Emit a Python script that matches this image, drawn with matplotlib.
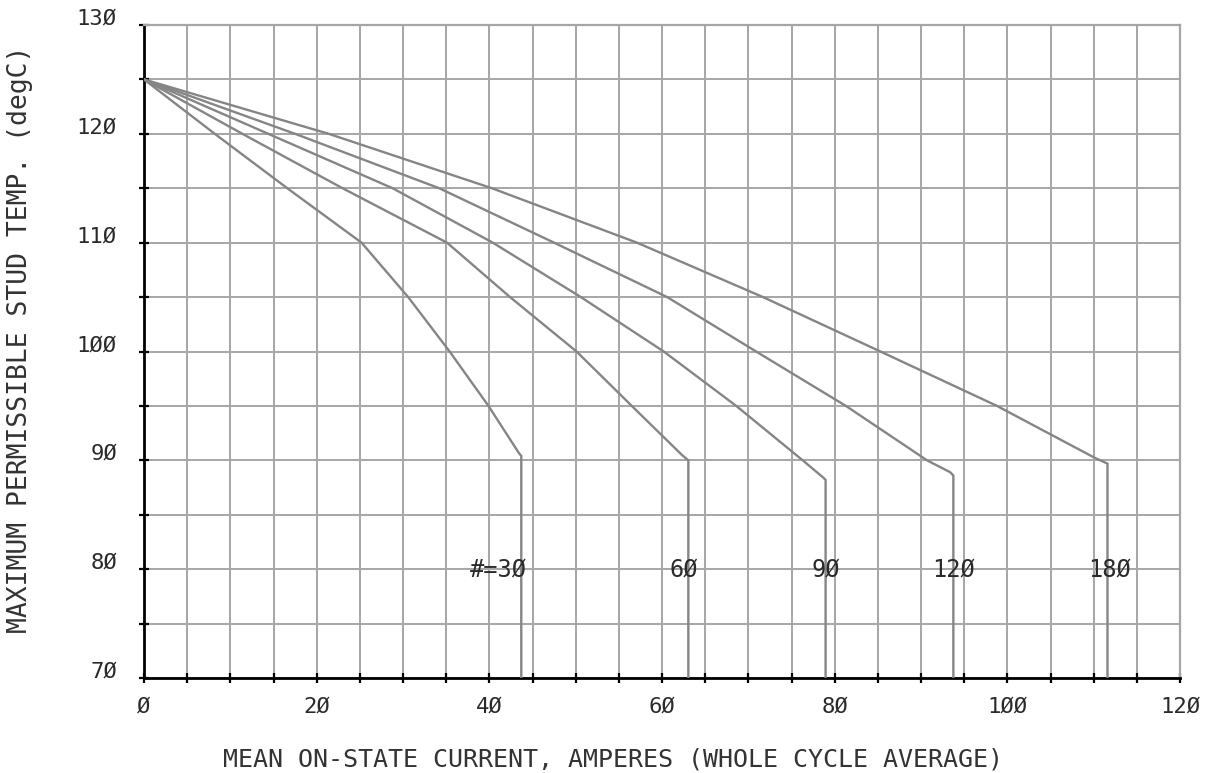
import matplotlib
matplotlib.use("Agg")
import matplotlib.pyplot as plt
from matplotlib.ticker import MultipleLocator, FixedLocator
from matplotlib.transforms import ScaledTranslation

# ---- data ----
conduction_angles = ["#=3Ø", "6Ø", "9Ø", "12Ø", "18Ø"]

cur_30 = [0, 8.2, 16.6, 25.2, 30.6, 35.4, 39.9, 43.4, 43.7, 43.7]
tmp_30 = [125, 120, 115, 110, 105, 100, 95, 90.7, 90.4, 70]

cur_60 = [0, 11.4, 23.0, 35.1, 42.4, 50.1, 56.5, 62.3, 63.05, 63.05]
tmp_60 = [125, 120, 115, 110, 105, 100, 95, 90.5, 90.0, 70]

cur_90 = [0, 14.4, 28.8, 40.4, 50.6, 60.2, 68.6, 76.3, 78.7, 78.95, 78.95]
tmp_90 = [125, 120, 115, 110, 105, 100, 95, 90, 88.4, 88.2, 70]

cur_120 = [0, 17.5, 34.2, 47.5, 60.6, 70.9, 81.3, 90.7, 93.4, 93.75, 93.75]
tmp_120 = [125, 120, 115, 110, 105, 100, 95, 90, 88.9, 88.6, 70]

cur_180 = [0, 21.4, 40.3, 57.1, 71.7, 85.3, 98.8, 110.2, 111.6, 111.6]
tmp_180 = [125, 120, 115, 110, 105, 100, 95, 90.2, 89.7, 70]

label_x = [41.0, 62.5, 79.0, 93.8, 111.8]
label_y = 80

x_ticks = [0, 20, 40, 60, 80, 100, 120]
x_tick_labels = ["Ø", "2Ø", "4Ø", "6Ø", "8Ø", "1ØØ", "12Ø"]
y_ticks = [70, 80, 90, 100, 110, 120, 130]
y_tick_labels = ["7Ø", "8Ø", "9Ø", "1ØØ", "11Ø", "12Ø", "13Ø"]

x_label = "MEAN ON-STATE CURRENT, AMPERES (WHOLE CYCLE AVERAGE)"
y_label = "MAXIMUM PERMISSIBLE STUD TEMP. (degC)"

# ---- figure ----
plt.rcParams['font.family'] = ['DejaVu Sans Mono', 'DejaVu Sans']
W, H = 1218, 773
fig = plt.figure(figsize=(W / 100, H / 100), dpi=100)
ax = fig.add_axes([144 / W, 1 - 678 / H, (1180 - 144) / W, (678 - 25) / H])

grid_col = '#a6a6a6'
curve_col = '#858585'
text_col = '#2a2a2a'

ax.set_xlim(0, 120)
ax.set_ylim(70, 130)

ax.xaxis.set_major_locator(FixedLocator(x_ticks))
ax.yaxis.set_major_locator(FixedLocator(y_ticks))
ax.xaxis.set_minor_locator(MultipleLocator(5))
ax.yaxis.set_minor_locator(MultipleLocator(5))
ax.set_xticklabels(x_tick_labels)
ax.set_yticklabels(y_tick_labels)

ax.grid(True, which='both', color=grid_col, linewidth=1.4, zorder=1)
ax.set_axisbelow(True)

ax.tick_params(axis='both', which='both', direction='inout', length=7,
               width=1.6, color='black', labelsize=16, labelcolor=text_col)
ax.tick_params(axis='x', which='major', pad=10)
ax.tick_params(axis='y', which='major', pad=16)
ax.tick_params(top=False, right=False)

for lab in ax.get_yticklabels():
    lab.set_transform(lab.get_transform() + ScaledTranslation(0, 6 / 72, fig.dpi_scale_trans))

for side in ['left', 'bottom']:
    ax.spines[side].set_color('black')
    ax.spines[side].set_linewidth(2.0)
for side in ['top', 'right']:
    ax.spines[side].set_color(grid_col)
    ax.spines[side].set_linewidth(1.6)

curves = [(cur_30, tmp_30), (cur_60, tmp_60), (cur_90, tmp_90),
          (cur_120, tmp_120), (cur_180, tmp_180)]
for (cx, cy) in curves:
    ax.plot(cx, cy, color=curve_col, linewidth=1.7, zorder=3, solid_joinstyle='miter')

for txt, lx in zip(conduction_angles, label_x):
    ax.text(lx, label_y, txt, ha='center', va='center', fontsize=17,
            color=text_col, zorder=4)

ax.set_xlabel(x_label, fontsize=18, color='#333333', va='center')
ax.xaxis.set_label_coords(0.453, -0.1255)
ax.set_ylabel(y_label, fontsize=19, color='#333333', va='center')
ax.yaxis.set_label_coords(-0.1195, 0.518)

fig.savefig('out.png', dpi=100)
